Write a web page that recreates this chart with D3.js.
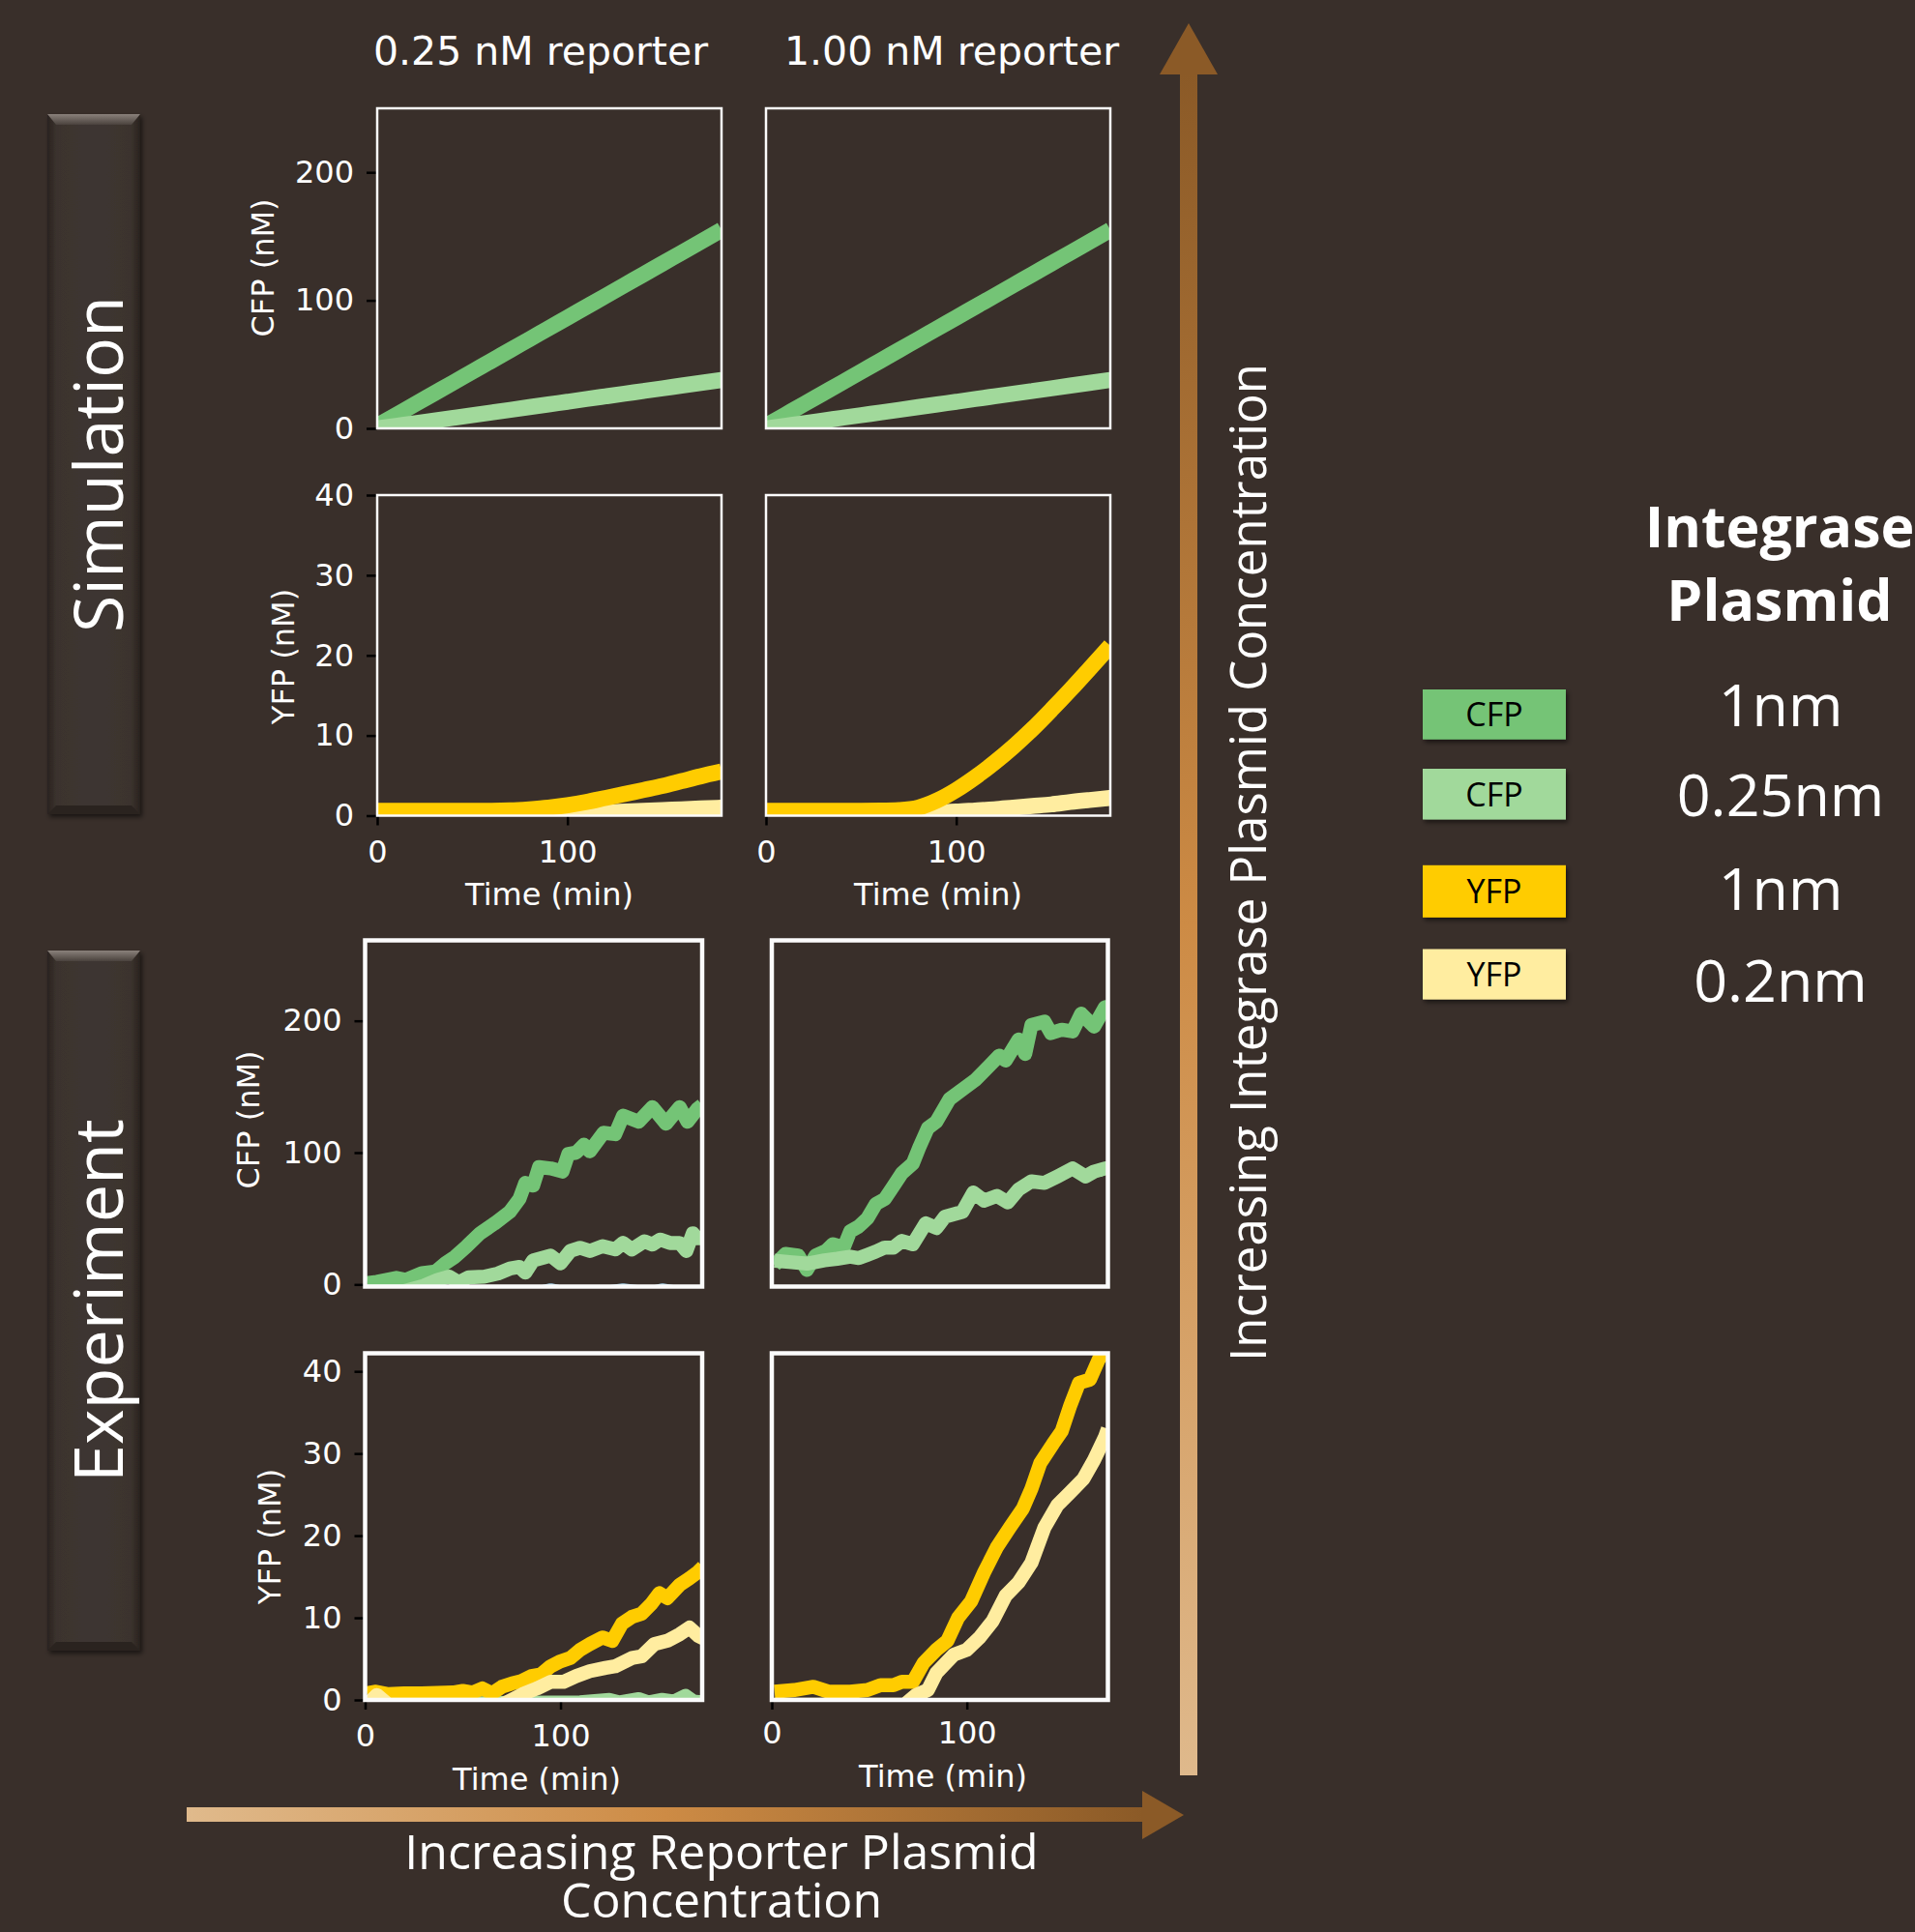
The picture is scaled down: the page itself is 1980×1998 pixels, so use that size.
<!DOCTYPE html>
<html>
<head>
<meta charset="utf-8">
<script src="https://cdn.jsdelivr.net/npm/d3@7"></script>
<style>
  body { margin: 0; background: #392f2a; }
  svg { display: block; }
</style>
</head>
<body>
<svg id="fig" width="1980" height="1998"></svg>
<script>
// ---------- data ----------

// column titles and legend
const reporterTitles = ["0.25 nM reporter", "1.00 nM reporter"];
const legendLabels = ["CFP", "CFP", "YFP", "YFP"];
const legendConc = ["1nm", "0.25nm", "1nm", "0.2nm"];
const cfpTicks = [0, 100, 200];
const yfpTicks = [0, 10, 20, 30, 40];
const timeTicks = [0, 100];

// simulation, time in min
const simTime = [0, 10, 20, 30, 40, 50, 60, 70, 80, 90, 100, 110, 120, 130, 140, 150, 160, 170, 181];
// CFP looks the same for both reporter levels
const simCfp1nm = [2, 10.5, 19, 27.4, 35.8, 44.3, 52.7, 61.2, 69.6, 78.1, 86.5, 95, 103.4, 111.9, 120.3, 128.8, 137.2, 145.7, 155];
const simCfp025nm = [0, 2, 4, 6.1, 8.2, 10.3, 12.4, 14.5, 16.6, 18.7, 20.8, 22.9, 25, 27.1, 29.2, 31.3, 33.4, 35.5, 37.8];
const simYfp1nm_rep025 = [0.6, 0.6, 0.6, 0.6, 0.6, 0.6, 0.6, 0.65, 0.8, 1.0, 1.3, 1.7, 2.2, 2.7, 3.2, 3.7, 4.3, 4.9, 5.5];
const simYfp02nm_rep025 = [0.2, 0.2, 0.2, 0.2, 0.2, 0.2, 0.2, 0.2, 0.2, 0.2, 0.2, 0.3, 0.4, 0.5, 0.6, 0.7, 0.8, 0.9, 1.0];
const simYfp1nm_rep100 = [0.6, 0.6, 0.6, 0.6, 0.6, 0.6, 0.62, 0.7, 1.0, 1.9, 3.2, 4.8, 6.6, 8.6, 10.8, 13.2, 15.7, 18.3, 21.2];
const simYfp02nm_rep100 = [0.2, 0.2, 0.2, 0.2, 0.2, 0.2, 0.2, 0.2, 0.3, 0.4, 0.5, 0.65, 0.8, 1.0, 1.2, 1.4, 1.7, 1.95, 2.2];

// experiment, 0.25 nM reporter
const expCfp1nm_rep025_t = [1, 6, 16, 21, 29, 36, 41, 46, 52, 59, 66, 74, 79, 82, 86, 89, 95, 101, 104, 108, 112, 115, 122, 128, 132, 140, 147, 154, 161, 165, 170, 172.5];
const expCfp1nm_rep025 = [1, 2, 5, 3.5, 8.5, 9.8, 16, 21, 29, 39, 46, 55, 65, 77, 75, 89, 88, 85.6, 99, 100, 106, 101, 115, 114, 128, 123.5, 134.5, 122, 134.5, 123.5, 133, 136];
const expCfp025nm_rep025_t = [1, 10, 20, 30, 37, 43, 48, 53, 61, 68, 74, 79, 82, 86, 95, 100, 105, 110, 115, 121.5, 128, 132, 136.5, 143, 147, 151, 156, 161, 164.4, 167.7, 170, 172.5];
const expCfp025nm_rep025 = [-5, -5, -5, -1, 3.4, 5.9, 1.5, 5.4, 5.9, 8.3, 12, 13.3, 9, 18.2, 21.8, 16, 25.4, 27.8, 25.4, 29, 26.6, 31.5, 26.6, 32.7, 30.3, 34, 31.5, 31.5, 25.4, 38.8, 35, 35];
const expYfp1nm_rep025_t = [1, 5, 12, 20, 29, 37, 45, 50, 55, 60, 65, 70, 75, 80, 85, 90, 95, 100, 105, 110, 115, 121.5, 126.5, 131.5, 136.5, 141.5, 146.5, 150.6, 154.7, 161, 166, 170.5, 173];
const expYfp1nm_rep025 = [0.8, 1.0, 0.7, 0.8, 0.8, 0.85, 0.9, 1.1, 0.9, 1.4, 0.8, 1.6, 2.0, 2.3, 2.9, 3.1, 4.1, 4.7, 5.1, 6.1, 6.8, 7.6, 7.2, 9.3, 10.1, 10.5, 11.7, 13.0, 12.4, 14.0, 14.8, 15.6, 16.2];
const expYfp02nm_rep025_t = [1, 6, 12, 20, 40, 60, 70, 75, 81.5, 88, 95, 101.5, 108, 115, 123, 128, 136.5, 141.5, 148, 154.7, 161, 166, 170.5, 173];
const expYfp02nm_rep025 = [-0.6, 0.6, -0.6, -0.6, -0.6, -0.6, -0.6, 0.0, 0.8, 1.4, 2.2, 2.2, 2.9, 3.5, 3.9, 4.1, 5.1, 5.3, 6.8, 7.2, 8.0, 8.8, 7.8, 7.5];
// faint cross-channel traces sitting on the zero line
const expCtrlCfp_rep025_t = [1, 90, 95, 100, 125, 132, 140, 148, 152, 158, 173];
const expCtrlCfp_rep025 = [-6, -6, -4.5, -6, -6, -4.5, -6, -6, -4.5, -6, -6];
const expCtrlYfp_rep025_t = [1, 60, 110, 125, 130, 140, 145, 152, 158, 164, 168, 173];
const expCtrlYfp_rep025 = [-0.4, -0.4, -0.3, 0, -0.3, 0.1, -0.3, 0, -0.2, 0.5, -0.2, -0.3];

// experiment, 1.00 nM reporter
const expCfp1nm_rep100_t = [1.4, 7, 13.6, 18, 22.5, 28, 31.3, 36.9, 40.2, 44.6, 49, 53.4, 57.9, 62.3, 66.7, 72.3, 75.6, 80, 84.4, 91.1, 97.7, 104.4, 111, 116.6, 119.9, 126.5, 129.9, 133.1, 139.8, 143.1, 148.6, 154.2, 158.6, 165.2, 170.8, 172.3];
const expCfp1nm_rep100 = [14.7, 23.2, 22, 11, 22, 25.7, 30.5, 28.1, 40.3, 44, 50.1, 61.1, 64.8, 74.5, 84.4, 91.7, 103.9, 118.6, 123.5, 140.6, 147.9, 155.2, 165.1, 173.6, 169.9, 185.8, 174.8, 196.8, 199.3, 190.7, 193.2, 191.9, 205.4, 195.6, 210.3, 208];
const expCfp025nm_rep100_t = [1.4, 9, 18, 27, 33.5, 40.2, 44.6, 49, 53.4, 57.9, 62.3, 66.7, 72.3, 78.9, 84.4, 88.8, 97.7, 103.3, 108.8, 115.4, 121, 126.5, 133.1, 139.8, 146.4, 154.2, 160.8, 165.2, 170.8, 172.3];
const expCfp025nm_rep100 = [18, 17, 15.8, 18.3, 19.5, 21, 20, 22.5, 25, 28, 28, 33, 30.5, 46.4, 42.8, 51.4, 55, 69.7, 63.6, 67.2, 62.3, 72.1, 78.2, 77, 81.9, 88, 81.9, 85.6, 88, 84];
const expYfp1nm_rep100_t = [1.4, 11.4, 21.3, 29.1, 40.2, 49, 55.7, 62.3, 66.7, 72.3, 77.8, 84.4, 90, 95.5, 102.2, 108.8, 115.4, 122.1, 128.7, 133.1, 137.6, 144.2, 148.6, 153.1, 157.5, 163.1, 167.5, 172.3];
const expYfp1nm_rep100 = [1.0, 1.2, 1.6, 1.0, 1.0, 1.2, 1.8, 1.8, 2.2, 2.2, 4.5, 6.1, 7.2, 10, 12, 15.5, 18.6, 21, 23.3, 25.7, 28.8, 31.2, 32.7, 35.9, 38.6, 39, 41.4, 43];
const expYfp02nm_rep100_t = [1.4, 30, 55.7, 68, 74, 80, 84.4, 93.3, 99.9, 106.5, 113.2, 119.9, 126.5, 133.1, 139.8, 146.4, 153.1, 159.7, 165.2, 170.8, 172.3];
const expYfp02nm_rep100 = [-0.6, -0.6, -0.6, -0.6, 0.6, 1.2, 3.3, 5.5, 6.1, 7.6, 9.6, 12.7, 14.3, 16.7, 21, 23.7, 25.3, 26.9, 29.2, 32, 33];

// ---------- colours ----------
const bg = "#392f2a";
const cfpDark = "#74c476", cfpLight = "#a1d99b";
const yfpDark = "#ffcc00", yfpLight = "#ffeda0";
const ctrlBlue = "#9ecae1";
const legendColors = [cfpDark, cfpLight, yfpDark, yfpLight];

const svg = d3.select("#fig");
const defs = svg.append("defs");

svg.append("rect").attr("width", 1980).attr("height", 1998).attr("fill", bg);

// gradients for the arrows and side boxes
function grad(id, x2, y2, stops) {
  const g = defs.append("linearGradient").attr("id", id)
    .attr("x1", 0).attr("y1", 0).attr("x2", x2).attr("y2", y2);
  stops.forEach(s => g.append("stop").attr("offset", s[0]).attr("stop-color", s[1]));
}
grad("arrowV", 0, 1, [[0, "#8b5a27"], [0.5, "#cd8b45"], [1, "#dfb98c"]]);
grad("arrowH", 1, 0, [[0, "#e0ba8c"], [0.5, "#cd8b45"], [1, "#8b5a27"]]);
grad("boxBody", 1, 0, [[0, "#2a231f"], [0.1, "#3b332e"], [0.5, "#3e3631"], [0.9, "#3b332e"], [1, "#29221e"]]);
grad("boxTop", 0, 1, [[0, "#8a817b"], [1, "#4a423d"]]);

const shadow = defs.append("filter").attr("id", "shadow")
  .attr("x", "-20%").attr("y", "-20%").attr("width", "140%").attr("height", "140%");
shadow.append("feDropShadow").attr("dx", 2).attr("dy", 3).attr("stdDeviation", 2.5)
  .attr("flood-color", "#000").attr("flood-opacity", 0.55);

// ---------- panels ----------
const tickFont = "DejaVu Sans";

function drawPanel(p) {
  const x = d3.scaleLinear().domain(p.xDomain).range([p.left, p.right]);
  const y = d3.scaleLinear().domain(p.yDomain).range([p.bottom, p.top]);
  const clipId = "clip-" + p.name;
  defs.append("clipPath").attr("id", clipId).append("rect")
    .attr("x", p.left).attr("y", p.top)
    .attr("width", p.right - p.left).attr("height", p.bottom - p.top);

  const g = svg.append("g");
  const line = d3.line()
    .x(d => x(d[0])).y(d => y(d[1]))
    .curve(p.smooth ? d3.curveMonotoneX : d3.curveLinear);

  p.series.forEach(s => {
    g.append("path")
      .datum(d3.zip(s.t, s.v))
      .attr("clip-path", `url(#${clipId})`)
      .attr("fill", "none")
      .attr("stroke", s.color)
      .attr("stroke-width", p.lw)
      .attr("stroke-linejoin", "round")
      .attr("d", line);
  });

  if (p.yTicks) {
    const ax = g.append("g").attr("transform", `translate(${p.left},0)`)
      .call(d3.axisLeft(y).tickValues(p.yTicks).tickSize(11).tickPadding(13));
    styleAxis(ax);
  }
  if (p.xTicks) {
    const ax = g.append("g").attr("transform", `translate(0,${p.bottom})`)
      .call(d3.axisBottom(x).tickValues(p.xTicks).tickSize(10).tickPadding(p.xPad));
    styleAxis(ax);
  }

  // frame on top of the lines
  g.append("rect")
    .attr("x", p.left).attr("y", p.top)
    .attr("width", p.right - p.left).attr("height", p.bottom - p.top)
    .attr("fill", "none").attr("stroke", "#fbfbfb").attr("stroke-width", p.frame);
}

function styleAxis(ax) {
  ax.select(".domain").remove();
  ax.selectAll(".tick line").attr("stroke", "#000").attr("stroke-width", 2.5);
  ax.selectAll(".tick text")
    .attr("fill", "#fff")
    .attr("font-family", tickFont)
    .attr("font-size", 32);
}

const simX = [0, 181];
const colL = [390, 746], colR = [792, 1148];

// simulation row
drawPanel({
  name: "simCfpL", left: colL[0], right: colL[1], top: 112, bottom: 443,
  xDomain: simX, yDomain: [0, 250], yTicks: cfpTicks, smooth: true, lw: 16.5, frame: 2.5,
  series: [{ t: simTime, v: simCfp1nm, color: cfpDark }, { t: simTime, v: simCfp025nm, color: cfpLight }]
});
drawPanel({
  name: "simCfpR", left: colR[0], right: colR[1], top: 112, bottom: 443,
  xDomain: simX, yDomain: [0, 250], smooth: true, lw: 16.5, frame: 2.5,
  series: [{ t: simTime, v: simCfp1nm, color: cfpDark }, { t: simTime, v: simCfp025nm, color: cfpLight }]
});
drawPanel({
  name: "simYfpL", left: colL[0], right: colL[1], top: 512, bottom: 843.5,
  xDomain: simX, yDomain: [0, 40], yTicks: yfpTicks, xTicks: timeTicks, xPad: 16, smooth: true, lw: 16.5, frame: 2.5,
  series: [{ t: simTime, v: simYfp02nm_rep025, color: yfpLight }, { t: simTime, v: simYfp1nm_rep025, color: yfpDark }]
});
drawPanel({
  name: "simYfpR", left: colR[0], right: colR[1], top: 512, bottom: 843.5,
  xDomain: simX, yDomain: [0, 40], xTicks: timeTicks, xPad: 16, smooth: true, lw: 16.5, frame: 2.5,
  series: [{ t: simTime, v: simYfp02nm_rep100, color: yfpLight }, { t: simTime, v: simYfp1nm_rep100, color: yfpDark }]
});

// experiment row
const expL = [377.5, 726], expR = [798, 1145.5];
drawPanel({
  name: "expCfpL", left: expL[0], right: expL[1], top: 972.5, bottom: 1330.5,
  xDomain: [0, 172.5], yDomain: [-1.6, 261], yTicks: cfpTicks, lw: 14.5, frame: 4.5,
  series: [
    { t: expCtrlCfp_rep025_t, v: expCtrlCfp_rep025, color: ctrlBlue },
    { t: expCfp1nm_rep025_t, v: expCfp1nm_rep025, color: cfpDark },
    { t: expCfp025nm_rep025_t, v: expCfp025nm_rep025, color: cfpLight }]
});
drawPanel({
  name: "expCfpR", left: expR[0], right: expR[1], top: 972.5, bottom: 1330.5,
  xDomain: [0, 172.3], yDomain: [-1.6, 261], lw: 14.5, frame: 4.5,
  series: [
    { t: expCfp1nm_rep100_t, v: expCfp1nm_rep100, color: cfpDark },
    { t: expCfp025nm_rep100_t, v: expCfp025nm_rep100, color: cfpLight }]
});
drawPanel({
  name: "expYfpL", left: expL[0], right: expL[1], top: 1399.5, bottom: 1758,
  xDomain: [0, 172.5], yDomain: [0, 42.2], yTicks: yfpTicks, xTicks: timeTicks, xPad: 15, lw: 14.5, frame: 4.5,
  series: [
    { t: expCtrlYfp_rep025_t, v: expCtrlYfp_rep025, color: cfpLight },
    { t: expYfp1nm_rep025_t, v: expYfp1nm_rep025, color: yfpDark },
    { t: expYfp02nm_rep025_t, v: expYfp02nm_rep025, color: yfpLight }]
});
drawPanel({
  name: "expYfpR", left: expR[0], right: expR[1], top: 1399.5, bottom: 1758,
  xDomain: [0, 172.3], yDomain: [0, 42.2], xTicks: timeTicks, xPad: 12, lw: 14.5, frame: 4.5,
  series: [
    { t: expYfp1nm_rep100_t, v: expYfp1nm_rep100, color: yfpDark },
    { t: expYfp02nm_rep100_t, v: expYfp02nm_rep100, color: yfpLight }]
});

// ---------- axis labels and titles ----------
function label(txt, x, y, size, rot, opts = {}) {
  svg.append("text")
    .attr("transform", `translate(${x},${y}) rotate(${rot || 0})`)
    .attr("text-anchor", opts.anchor || "middle")
    .attr("font-family", opts.font || tickFont)
    .attr("font-size", size)
    .attr("font-weight", opts.weight || "normal")
    .attr("fill", opts.fill || "#fff")
    .text(txt);
}

label(reporterTitles[0], 559, 67, 41);
label(reporterTitles[1], 984, 67, 41);

label("CFP (nM)", 283, 277, 32, -90);
label("YFP (nM)", 304, 679, 32, -90);
label("CFP (nM)", 268, 1158, 32, -90);
label("YFP (nM)", 290, 1589, 32, -90);

label("Time (min)", 568, 936, 32);
label("Time (min)", 970, 936, 32);
label("Time (min)", 555, 1851, 32);
label("Time (min)", 975, 1848, 32);

// ---------- side boxes ----------
const slideFont = "Open Sans";
function sideBox(top, bottom, txt) {
  const l = 49, r = 145;
  const g = svg.append("g");
  g.append("rect").attr("x", l).attr("y", top).attr("width", r - l).attr("height", bottom - top)
    .attr("fill", "url(#boxBody)").attr("filter", "url(#shadow)");
  g.append("polygon")
    .attr("points", [[l, top], [r, top], [r - 9, top + 11], [l + 9, top + 11]].join(" "))
    .attr("fill", "url(#boxTop)");
  g.append("polygon")
    .attr("points", [[l + 9, bottom - 9], [r - 9, bottom - 9], [r, bottom], [l, bottom]].join(" "))
    .attr("fill", "#2a231f");
  label(txt, 127, (top + bottom) / 2, 70, -90, { font: slideFont });
}
sideBox(118, 842, "Simulation");
sideBox(983, 1707, "Experiment");

// ---------- arrows ----------
svg.append("rect").attr("x", 1220).attr("y", 76).attr("width", 18).attr("height", 1836 - 76)
  .attr("fill", "url(#arrowV)");
svg.append("polygon").attr("points", "1229,24 1259,77 1199,77").attr("fill", "#8b5a27");
label("Increasing Integrase Plasmid Concentration", 1309, 892, 51, -90, { font: slideFont });

svg.append("rect").attr("x", 193).attr("y", 1869).attr("width", 1182 - 193).attr("height", 15)
  .attr("fill", "url(#arrowH)");
svg.append("polygon").attr("points", "1181,1852 1224,1877 1181,1902").attr("fill", "#8b5a27");
label("Increasing Reporter Plasmid", 746, 1933, 50, 0, { font: slideFont });
label("Concentration", 746, 1983, 50, 0, { font: slideFont });

// ---------- legend ----------
label("Integrase", 1840, 566, 59, 0, { font: slideFont, weight: "bold" });
label("Plasmid", 1840, 642, 59, 0, { font: slideFont, weight: "bold" });

// [box top, box bottom, label baseline]
const legendRows = [[713, 764.7, 750.5], [795, 847.5, 844.3], [894.8, 948.8, 941], [981.5, 1033.6, 1035.5]];
legendRows.forEach((r, i) => {
  const top = r[0], bot = r[1];
  svg.append("rect").attr("x", 1471).attr("y", top).attr("width", 148).attr("height", bot - top)
    .attr("fill", legendColors[i]).attr("filter", "url(#shadow)");
  label(legendLabels[i], 1545, (top + bot) / 2 + 12.5, 34, 0, { font: slideFont, fill: "#000" });
  label(legendConc[i], 1841, r[2], 61, 0, { font: slideFont });
});
</script>
</body>
</html>
